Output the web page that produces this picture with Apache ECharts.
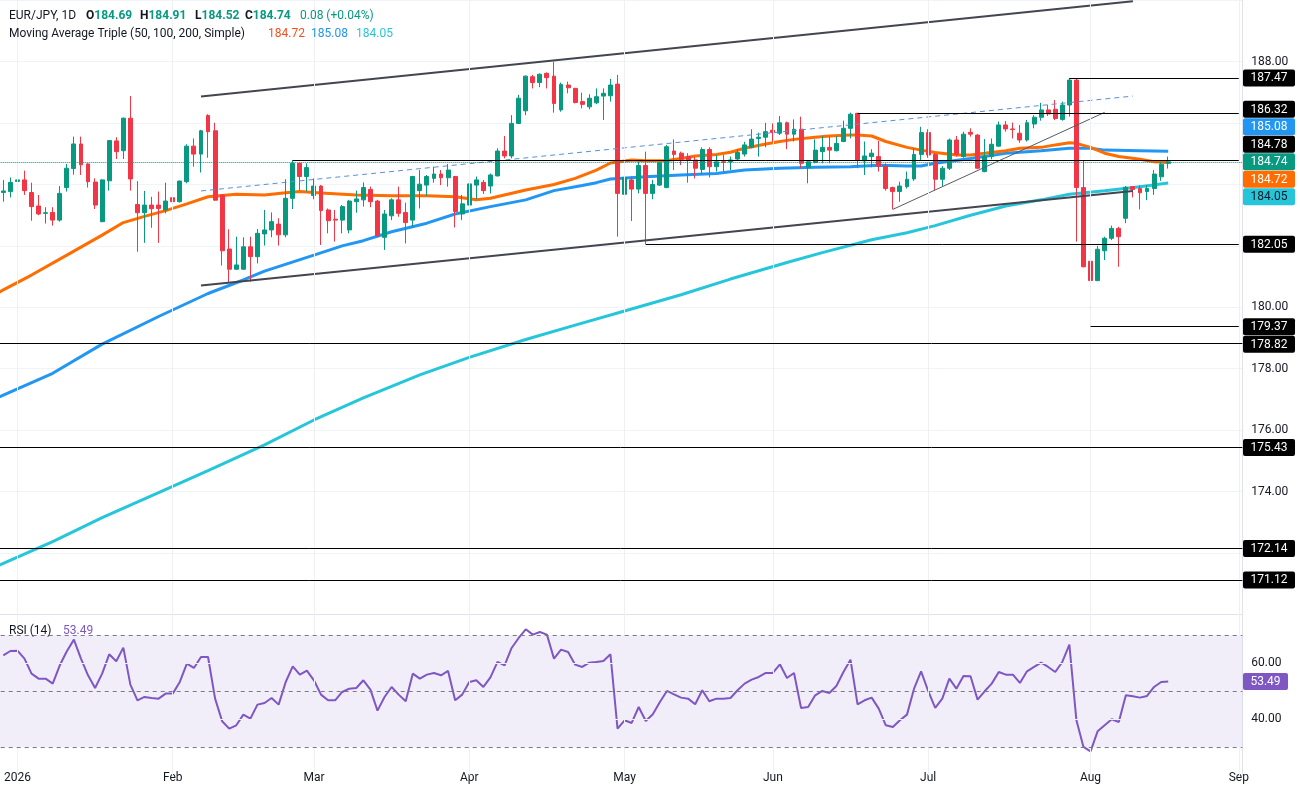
<!DOCTYPE html>
<html>
<head>
<meta charset="utf-8">
<script src="https://cdn.jsdelivr.net/npm/echarts@6/dist/echarts.min.js"></script>
<style>
html,body{margin:0;padding:0;background:#ffffff;}
#chart{width:1300px;height:793px;}
</style>
</head>
<body>
<div id="chart"></div>
<script>
// ---------- DATA (bar k = 0 is 2025-12-30, k = 2 is 2026-01-01) ----------
const opens = [
183.74,183.77,184.10,184.15,183.74,183.30,183.06,183.09,182.84,183.90,
184.52,185.32,184.67,184.08,182.79,184.12,185.42,185.10,186.16,183.35,
183.08,183.33,183.33,183.17,183.57,183.44,184.09,185.25,184.99,186.25,
185.75,183.66,181.90,181.24,181.24,181.97,181.65,182.39,182.52,182.71,
182.36,183.55,184.69,184.26,183.64,183.95,183.17,182.87,182.84,182.52,
183.44,183.50,183.84,183.46,182.28,182.98,183.50,183.09,182.84,183.80,
183.98,184.20,184.34,184.22,184.26,183.04,183.33,183.98,184.07,183.95,
184.28,185.09,184.93,185.99,186.40,187.51,187.32,187.62,187.53,186.43,
187.24,187.13,186.70,186.53,186.66,186.88,186.89,187.27,183.68,184.15,
183.85,184.62,183.71,183.98,183.90,185.09,185.02,184.91,184.80,184.49,
185.14,184.58,184.74,184.74,184.83,184.99,185.21,185.50,185.54,185.77,
185.67,186.01,185.64,185.80,184.56,184.72,185.07,185.21,185.10,185.40,
185.83,186.32,184.77,184.91,184.91,184.60,183.90,183.77,183.93,184.18,
184.98,185.69,184.98,184.17,184.53,185.45,184.91,185.70,185.61,184.42,
184.91,185.25,185.94,185.81,185.67,185.45,185.97,186.19,186.43,186.45,
186.12,186.59,187.40,183.90,181.50,180.87,181.84,182.25,182.57,182.90,
183.93,183.87,183.77,183.87,184.25,184.69];
const highs = [
184.15,184.23,184.22,184.45,184.06,183.66,183.26,183.26,183.95,184.67,
185.56,185.56,184.69,184.20,184.17,185.45,185.54,186.18,186.88,184.11,
183.79,183.60,183.77,184.06,184.28,184.13,185.31,185.50,185.78,186.29,
186.01,183.68,182.54,182.30,182.28,182.30,182.55,183.17,183.09,182.90,
184.17,184.80,184.71,184.69,184.20,183.98,183.22,183.17,183.33,183.50,
183.80,184.07,183.93,183.50,183.17,183.55,183.93,183.41,184.28,184.47,
184.31,184.58,184.47,184.67,184.28,183.66,184.26,184.26,184.15,184.36,
185.18,185.58,186.26,186.92,187.55,187.57,187.62,187.65,188.00,187.32,
187.35,187.15,186.99,186.94,187.13,187.13,187.44,187.57,184.28,184.26,
184.74,185.07,184.15,184.73,185.29,185.47,185.07,185.02,184.91,185.21,
185.21,184.96,184.96,184.91,185.15,185.39,185.80,185.69,186.01,185.99,
186.23,186.05,186.12,186.21,184.80,185.47,185.58,185.56,185.58,186.08,
186.34,186.32,185.40,185.15,185.42,184.69,183.93,184.09,184.42,185.18,
185.88,185.80,185.02,184.60,185.50,185.58,185.72,185.83,185.64,185.48,
185.50,186.05,186.07,186.02,185.94,186.10,186.26,186.66,186.59,186.75,
186.70,187.47,187.46,184.80,182.21,182.00,182.30,182.66,182.62,183.95,
183.95,183.98,183.98,184.47,184.74,184.91];
const lows = [
183.44,183.58,184.02,183.66,182.82,183.00,182.73,182.66,182.79,183.77,
184.32,184.31,183.90,183.20,182.77,183.80,184.83,184.83,183.80,181.81,
182.10,182.59,182.10,183.06,183.22,183.41,184.04,184.58,184.39,184.87,
183.47,181.36,180.81,181.22,181.22,180.83,181.43,182.01,182.28,182.01,
182.28,183.20,183.82,183.77,183.52,182.03,182.41,182.14,182.41,182.41,
183.08,183.28,183.26,182.28,181.87,182.84,182.95,182.08,182.60,183.22,
183.63,184.06,183.98,183.93,182.60,182.84,183.30,183.52,183.69,183.71,
184.26,184.85,184.85,185.97,186.26,187.13,187.17,187.13,186.34,186.37,
186.97,186.64,186.48,186.45,186.62,186.10,186.70,182.30,182.66,182.81,
183.71,182.05,183.52,183.95,183.88,184.47,184.63,184.06,184.20,184.33,
184.23,184.42,184.42,184.47,184.80,184.91,185.18,184.91,185.21,185.40,
185.61,185.15,185.40,184.53,184.04,184.69,184.69,184.69,185.08,185.38,
185.50,184.53,184.31,184.56,184.42,183.80,183.19,183.44,183.87,184.12,
184.80,184.87,183.80,183.95,184.47,184.91,184.87,185.56,184.50,184.40,
184.82,185.23,185.72,185.50,185.36,185.40,185.83,186.08,186.23,186.10,
186.08,186.21,182.14,181.30,179.37,180.85,181.54,182.19,181.32,182.74,
183.58,183.19,183.49,183.66,184.12,184.52];
const closes = [
183.79,184.07,184.15,183.80,183.28,183.04,183.08,182.84,183.71,184.53,
185.32,184.64,184.09,183.33,184.15,185.43,185.07,186.16,184.18,183.08,
183.33,183.21,183.22,183.46,183.44,184.11,185.25,184.99,185.75,185.72,
183.49,181.84,181.24,181.38,181.97,181.65,182.41,182.52,182.79,182.36,
183.55,184.69,184.26,184.55,183.95,183.15,182.82,182.84,183.28,183.46,
183.53,183.90,183.44,182.33,183.04,183.50,183.06,182.76,184.26,184.01,
184.26,184.34,184.22,184.47,183.12,183.37,184.02,184.15,183.80,184.31,
185.09,184.93,185.99,186.81,187.53,187.32,187.59,187.48,186.64,187.26,
187.15,186.67,186.61,186.81,186.86,186.97,187.24,183.71,184.23,183.85,
184.62,183.71,184.00,184.71,185.23,184.98,184.82,184.80,184.53,185.14,
184.58,184.74,184.72,184.80,185.04,185.29,185.48,185.54,185.72,185.69,
186.01,185.64,185.80,184.69,184.74,185.12,185.21,185.12,185.34,185.83,
186.29,184.80,184.93,185.02,184.60,183.87,183.77,183.95,184.17,184.98,
185.69,184.96,184.17,184.53,185.45,184.98,185.64,185.64,184.53,184.91,
185.31,185.94,185.81,185.79,185.45,186.01,186.19,186.43,186.30,186.15,
186.59,187.40,183.90,181.32,180.87,181.89,182.25,182.57,182.30,183.91,
183.84,183.73,183.87,184.34,184.66,184.74];
const rsi14 = [
62.86,64.40,64.52,61.67,56.31,54.52,54.52,52.74,59.29,64.29,
68.45,61.67,55.71,51.19,56.31,63.21,60.71,65.60,52.38,46.79,
47.98,47.62,47.38,49.17,49.17,53.33,59.88,58.33,62.26,62.26,
47.38,39.29,36.67,37.86,41.67,40.24,45.24,45.83,47.62,45.24,
53.33,58.93,55.95,57.38,53.93,48.81,46.79,46.79,49.76,50.95,
51.19,53.93,50.60,43.10,47.98,51.55,48.81,46.43,56.31,54.52,
55.95,56.55,55.71,57.26,46.79,48.81,53.33,53.93,51.55,55.00,
60.48,59.29,65.48,69.05,72.14,70.24,71.19,70.24,61.67,64.88,
64.05,59.52,58.69,60.24,60.48,60.83,63.21,36.67,39.64,38.69,
44.40,39.40,41.79,46.19,50.12,48.93,47.74,47.38,45.36,50.36,
46.43,47.38,47.38,47.62,50.36,52.74,54.17,55.12,56.55,56.55,
59.64,54.76,56.55,44.05,44.40,48.57,50.12,49.40,51.90,56.90,
61.31,45.36,46.79,47.74,43.81,37.86,37.26,39.64,41.67,50.95,
57.14,50.12,44.05,47.38,54.52,50.95,55.48,55.36,47.02,50.00,
52.74,56.90,55.95,55.95,52.98,57.14,58.69,60.24,58.69,56.90,
60.48,66.67,39.64,30.12,28.57,35.71,37.86,40.00,39.05,48.57,
48.21,47.74,48.33,51.55,53.33,53.49];
// moving averages read at selected bars: [bar k, value]
const ma50 = [[-1,180.43],[0,180.57],[4,181.05],[9,181.70],[14,182.35],[17,182.76],[20,182.96],[23,183.15],[26,183.37],[29,183.60],[33,183.68],[37,183.66],[40,183.73],[42,183.77],[45,183.72],[50,183.66],[55,183.63],[60,183.63],[64,183.60],[67,183.50],[69,183.55],[74,183.82],[78,184.00],[81,184.20],[84,184.47],[86,184.70],[89,184.80],[91,184.77],[94,184.78],[96,184.85],[98,184.93],[101,184.98],[103,185.05],[105,185.18],[108,185.32],[110,185.40],[112,185.47],[115,185.54],[117,185.58],[120,185.61],[121,185.61],[123,185.58],[125,185.40],[128,185.21],[130,185.12],[132,185.04],[135,184.96],[137,184.96],[139,185.02],[142,185.10],[144,185.18],[147,185.21],[149,185.29],[151,185.36],[152,185.34],[154,185.21],[156,185.02],[158,184.91],[161,184.82],[163,184.74],[165,184.72]];
const ma100 = [[-1,177.03],[0,177.14],[7,177.85],[14,178.80],[22,179.70],[29,180.45],[34,180.89],[37,181.18],[44,181.70],[48,182.00],[51,182.17],[55,182.46],[60,182.74],[64,183.04],[69,183.28],[74,183.50],[78,183.80],[82,183.97],[84,184.06],[86,184.18],[91,184.25],[96,184.31],[101,184.36],[105,184.47],[110,184.53],[115,184.56],[120,184.58],[124,184.63],[128,184.60],[130,184.60],[132,184.69],[137,184.85],[142,185.02],[147,185.10],[151,185.18],[154,185.18],[156,185.12],[161,185.10],[165,185.08]];
const ma200 = [[-1,171.55],[0,171.66],[7,172.37],[14,173.15],[22,173.96],[29,174.68],[37,175.52],[44,176.33],[51,177.05],[59,177.80],[66,178.37],[74,178.95],[81,179.42],[88,179.88],[96,180.41],[103,180.92],[111,181.46],[116,181.78],[123,182.20],[128,182.43],[132,182.66],[137,183.00],[142,183.30],[147,183.50],[151,183.68],[156,183.80],[161,183.93],[165,184.05]];
// drawings: [bar k, price]
const channelUpper = [[28,186.87],[160,189.97]];
const channelLower = [[28,180.71],[160,183.79]];
const channelMid = [[28,183.79],[160,186.88]];
const wedgeLine = [[126,183.19],[156,186.35]];
// horizontal levels and the bar they start from (-1 = whole width)
const levelValues = [187.47,186.32,184.78,182.05,179.37,178.82,175.43,172.14,171.12];
const levelStartBar = [151,121,41,91,154,-1,-1,-1,-1];
const priceTickLabels = [188,180,178,176,174];
const rsiTickLabels = [40,60];
const monthTickLabels = ['2026','Feb','Mar','Apr','May','Jun','Jul','Aug','Sep'];

// ---------- categories: weekdays 2025-12-29 .. 2026-09-01 ----------
const dates = [];
for (let t = Date.UTC(2025,11,29); t <= Date.UTC(2026,8,1); t += 86400000) {
  const d = new Date(t); const wd = d.getUTCDay();
  if (wd === 0 || wd === 6) continue;
  dates.push(d.toISOString().slice(0,10));
}
const K0 = 1; // bar k sits at category k+1
const cat = k => dates[k + K0];
const isMonthStart = c => c > 0 && dates[c].slice(5,7) !== dates[c-1].slice(5,7);
const monthStarts = dates.filter((d,c) => isMonthStart(c));

const UP = '#089981', DOWN = '#f23645';
const FONT = 'Roboto, "Noto Sans", sans-serif';
const TXT = '#131722';

const candleData = dates.map((d,c) => {
  const k = c - K0;
  return (k >= 0 && k < opens.length) ? [opens[k], closes[k], lows[k], highs[k]] : '-';
});
const rsiData = dates.map((d,c) => {
  const k = c - K0;
  return (k >= 0 && k < rsi14.length) ? rsi14[k] : '-';
});
const pts = arr => arr.map(([k,v]) => [cat(k), v]);
const lastClose = closes[closes.length-1];
const last = a => a[a.length-1][1];

const GRID_LEFT = -7.29, GRID_W = 1249.62;

const noSym = ['none','none'];
const option = {
  animation: false,
  backgroundColor: '#ffffff',
  textStyle: {fontFamily: FONT},
  grid: [
    {left: GRID_LEFT, top: 0.3, width: GRID_W, height: 614, outerBoundsMode: 'none', containLabel: false},
    {left: GRID_LEFT, top: 607.3, width: GRID_W, height: 168, outerBoundsMode: 'none', containLabel: false}
  ],
  xAxis: [
    {type:'category', data: dates, gridIndex:0, boundaryGap:true,
     axisLabel:{show:false}, axisTick:{show:false},
     axisLine:{show:true, lineStyle:{color:'#e0e3eb', width:1}}, splitLine:{show:false}},
    {type:'category', data: dates, gridIndex:1, boundaryGap:true,
     axisLine:{show:false}, axisTick:{show:false}, splitLine:{show:false},
     axisLabel:{show:true, color:TXT, fontSize:12, fontFamily:FONT, margin:-3, hideOverlap:false,
       interval: (i) => isMonthStart(i),
       formatter: (v) => monthTickLabels[parseInt(v.slice(5,7),10)-1] }}
  ],
  yAxis: [
    {type:'value', gridIndex:0, position:'right', min:170, max:190, interval:2,
     axisLine:{show:true, lineStyle:{color:'#e0e3eb'}}, axisTick:{show:false},
     axisLabel:{color:TXT, fontSize:12, fontFamily:FONT, margin:9,
       formatter: v => priceTickLabels.includes(v) ? v.toFixed(2) : ''},
     splitLine:{show:true, lineStyle:{color:'#f0f3fa', width:1}}},
    {type:'value', gridIndex:1, position:'right', min:20, max:80, interval:20,
     axisLine:{show:true, lineStyle:{color:'#e0e3eb'}}, axisTick:{show:false},
     axisLabel:{color:TXT, fontSize:12, fontFamily:FONT, margin:9,
       formatter: v => rsiTickLabels.includes(v) ? v.toFixed(2) : ''},
     splitLine:{show:false}}
  ],
  series: [
    {name:'vgrid0', type:'line', xAxisIndex:0, yAxisIndex:0, data:[], silent:true, z:1,
     markLine:{symbol:noSym, silent:true, animation:false, label:{show:false},
       lineStyle:{color:'#eef0f5', width:1, type:'solid'}, emphasis:{disabled:true},
       data: monthStarts.map(d => ({xAxis:d}))}},
    {name:'vgrid1', type:'line', xAxisIndex:1, yAxisIndex:1, data:[], silent:true, z:1,
     markLine:{symbol:noSym, silent:true, animation:false, label:{show:false},
       lineStyle:{color:'#eef0f5', width:1, type:'solid'}, emphasis:{disabled:true},
       data: monthStarts.map(d => ({xAxis:d})).concat(rsiTickLabels.map(v => ({yAxis:v})))}},
    {name:'MA200', type:'line', xAxisIndex:0, yAxisIndex:0, data: pts(ma200), showSymbol:false, silent:true, z:2,
     lineStyle:{color:'#26c6da', width:3}},
    {name:'MA100', type:'line', xAxisIndex:0, yAxisIndex:0, data: pts(ma100), showSymbol:false, silent:true, z:2,
     lineStyle:{color:'#2196f3', width:3}},
    {name:'MA50', type:'line', xAxisIndex:0, yAxisIndex:0, data: pts(ma50), showSymbol:false, silent:true, z:2,
     lineStyle:{color:'#ff6d00', width:3}},
    {name:'EURJPY', type:'candlestick', xAxisIndex:0, yAxisIndex:0, data: candleData, z:3, barWidth:4.4,
     itemStyle:{color:UP, color0:DOWN, borderColor:UP, borderColor0:DOWN, borderWidth:1}},
    {name:'levels', type:'line', xAxisIndex:0, yAxisIndex:0, data:[], silent:true, z:4,
     markLine:{symbol:noSym, silent:true, animation:false, label:{show:false}, emphasis:{disabled:true},
       lineStyle:{color:'#000000', width:1, type:'solid'},
       data: levelValues.map((v,i) => levelStartBar[i] < 0 ? {yAxis:v}
             : [{coord:[cat(levelStartBar[i]), v]}, {coord:[dates[dates.length-1], v]}])
             .concat([{yAxis:lastClose, lineStyle:{color:UP, type:'dotted', width:1}}])}},
    {name:'upper', type:'line', xAxisIndex:0, yAxisIndex:0, data: pts(channelUpper), showSymbol:false, silent:true, z:4,
     lineStyle:{color:'#434651', width:2}},
    {name:'lower', type:'line', xAxisIndex:0, yAxisIndex:0, data: pts(channelLower), showSymbol:false, silent:true, z:4,
     lineStyle:{color:'#434651', width:2}},
    {name:'mid', type:'line', xAxisIndex:0, yAxisIndex:0, data: pts(channelMid), showSymbol:false, silent:true, z:4,
     lineStyle:{color:'#5b8fd6', width:1, type:[5,4]}},
    {name:'wedge', type:'line', xAxisIndex:0, yAxisIndex:0, data: pts(wedgeLine), showSymbol:false, silent:true, z:4,
     lineStyle:{color:'#555a66', width:1}},
    {name:'RSI', type:'line', xAxisIndex:1, yAxisIndex:1, data: rsiData, showSymbol:false, silent:true, z:3,
     lineStyle:{color:'#7e57c2', width:2},
     markArea:{silent:true, itemStyle:{color:'rgba(126,87,194,0.1)'}, data:[[{yAxis:30},{yAxis:70}]]},
     markLine:{symbol:noSym, silent:true, animation:false, label:{show:false}, emphasis:{disabled:true},
       lineStyle:{color:'#787b86', width:1, type:[4,4]},
       data:[{yAxis:70},{yAxis:50},{yAxis:30}]}}
  ],
  title: [
    {left:9, top:8, padding:0, text:'EUR/JPY, 1D', textStyle:{color:TXT, fontSize:12, fontWeight:'normal', fontFamily:FONT, lineHeight:16}},
    {left:86, top:8, padding:0, text:'{a|O}{g|' + opens[opens.length-1].toFixed(2) + '}',
     textStyle:{rich:{a:{color:TXT, fontSize:12, fontFamily:FONT, lineHeight:16}, g:{color:UP, fontSize:12, fontFamily:FONT, lineHeight:16}}}},
    {left:140, top:8, padding:0, text:'{a|H}{g|' + highs[highs.length-1].toFixed(2) + '}',
     textStyle:{rich:{a:{color:TXT, fontSize:12, fontFamily:FONT, lineHeight:16}, g:{color:UP, fontSize:12, fontFamily:FONT, lineHeight:16}}}},
    {left:195, top:8, padding:0, text:'{a|L}{g|' + lows[lows.length-1].toFixed(2) + '}',
     textStyle:{rich:{a:{color:TXT, fontSize:12, fontFamily:FONT, lineHeight:16}, g:{color:UP, fontSize:12, fontFamily:FONT, lineHeight:16}}}},
    {left:245, top:8, padding:0, text:'{a|C}{g|' + lastClose.toFixed(2) + '}',
     textStyle:{rich:{a:{color:TXT, fontSize:12, fontFamily:FONT, lineHeight:16}, g:{color:UP, fontSize:12, fontFamily:FONT, lineHeight:16}}}},
    {left:300, top:8, padding:0, text:'0.08 (+0.04%)', textStyle:{color:UP, fontSize:12, fontWeight:'normal', fontFamily:FONT, lineHeight:16}},
    {left:9, top:26, padding:0, text:'Moving Average Triple (50, 100, 200, Simple)', textStyle:{color:TXT, fontSize:12, fontWeight:'normal', fontFamily:FONT, lineHeight:16}},
    {left:268, top:26, padding:0, text: last(ma50).toFixed(2), textStyle:{color:'#f4511e', fontSize:12, fontWeight:'normal', fontFamily:FONT, lineHeight:16}},
    {left:311, top:26, padding:0, text: last(ma100).toFixed(2), textStyle:{color:'#2196f3', fontSize:12, fontWeight:'normal', fontFamily:FONT, lineHeight:16}},
    {left:356, top:26, padding:0, text: last(ma200).toFixed(2), textStyle:{color:'#26c6da', fontSize:12, fontWeight:'normal', fontFamily:FONT, lineHeight:16}},
    {left:9, top:623, padding:0, text:'RSI (14)', textStyle:{color:TXT, fontSize:12, fontWeight:'normal', fontFamily:FONT, lineHeight:16}},
    {left:63, top:623, padding:0, text: rsi14[rsi14.length-1].toFixed(2), textStyle:{color:'#7e57c2', fontSize:12, fontWeight:'normal', fontFamily:FONT, lineHeight:16}}
  ]
};

const chart = echarts.init(document.getElementById('chart'), null, {renderer:'canvas'});
chart.setOption(option);

// ---------- price-scale tags, pushed apart like the trading platform does ----------
const tags = levelValues.map(v => ({v, bg:'#000000', fg:'#ffffff'}))
  .concat([
    {v:last(ma100), bg:'#2196f3', fg:'#ffffff'},
    {v:lastClose, bg:UP, fg:'#ffffff', anchor:true},
    {v:last(ma50), bg:'#ff6d00', fg:'#ffffff'},
    {v:last(ma200), bg:'#26c6da', fg:TXT}
  ]);
tags.forEach(t => { t.y = chart.convertToPixel({yAxisIndex:0}, t.v); });
tags.sort((a,b) => a.y - b.y);
const STEP = 17.5, TAG_H = 17;
const ai = tags.findIndex(t => t.anchor);
for (let i = ai-1; i >= 0; i--) tags[i].y = Math.min(tags[i].y, tags[i+1].y - STEP);
for (let i = ai+1; i < tags.length; i++) tags[i].y = Math.max(tags[i].y, tags[i-1].y + STEP);
const graphics = [];
function addTag(y, text, bg, fg, x0, w) {
  graphics.push({type:'rect', z:100, silent:true, shape:{x:x0, y:y - TAG_H/2, width:w, height:TAG_H, r:2}, style:{fill:bg}});
  graphics.push({type:'text', z:101, silent:true, x:x0 + w/2, y:y + 0.5,
    style:{text:text, fill:fg, font:'12px ' + FONT, textAlign:'center', textVerticalAlign:'middle', verticalAlign:'middle'}});
}
tags.forEach(t => addTag(t.y, t.v.toFixed(2), t.bg, t.fg, 1243, 52));
const rsiLast = rsi14[rsi14.length-1];
addTag(chart.convertToPixel({yAxisIndex:1}, rsiLast), rsiLast.toFixed(2), '#7e57c2', '#ffffff', 1243, 45);
chart.setOption({graphic: graphics});
</script>
</body>
</html>
